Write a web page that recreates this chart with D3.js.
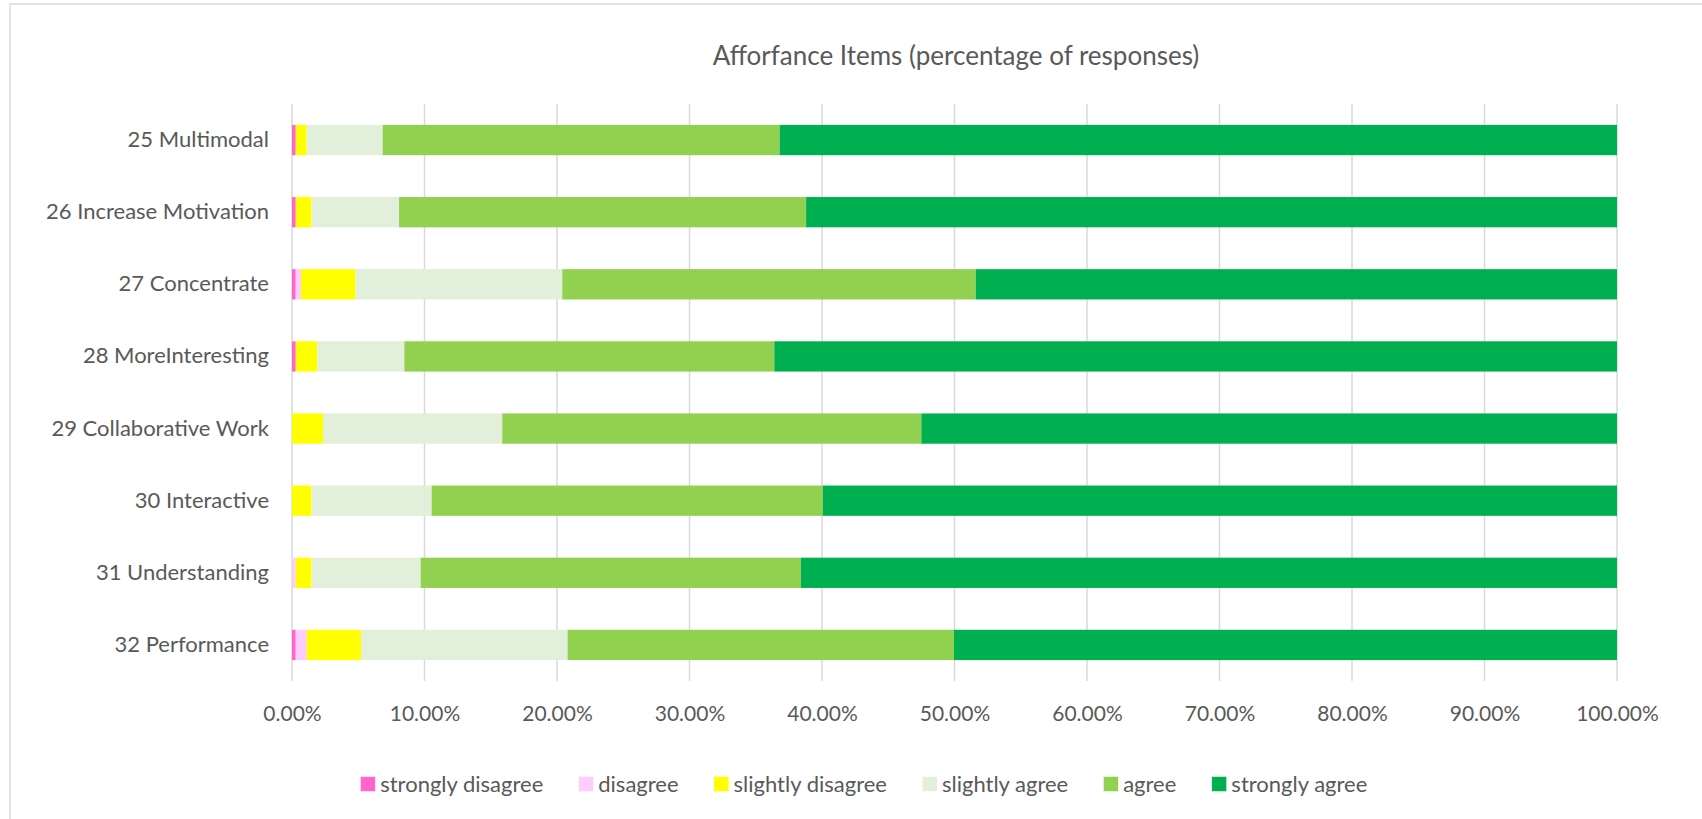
<!DOCTYPE html>
<html>
<head>
<meta charset="utf-8">
<script src="https://cdn.jsdelivr.net/npm/d3@7"></script>
<style>
  html, body { margin: 0; padding: 0; background: #fff; }
  svg { display: block; }
  text { font-family: Lato, "Open Sans", sans-serif; fill: #595959; }
</style>
</head>
<body>
<svg id="chart" width="1702" height="819"></svg>
<script>
// Survey items (top to bottom)
const items = [
  "25 Multimodal",
  "26 Increase Motivation",
  "27 Concentrate",
  "28 MoreInteresting",
  "29 Collaborative Work",
  "30 Interactive",
  "31 Understanding",
  "32 Performance"
];

// Response categories, in stacking order
const responses = [
  "strongly disagree",
  "disagree",
  "slightly disagree",
  "slightly agree",
  "agree",
  "strongly agree"
];

const responseColors = ["#FF66CC", "#FFCCFF", "#FFFF00", "#E2EFDA", "#92D050", "#00B050"];

// Share of responses (%) per item, one array per response category
const stronglyDisagree = [0.28, 0.28, 0.28, 0.28, 0.00, 0.00, 0.00, 0.28];
const disagree         = [0.00, 0.00, 0.40, 0.00, 0.00, 0.00, 0.28, 0.83];
const slightlyDisagree = [0.83, 1.20, 4.12, 1.63, 2.34, 1.48, 1.20, 4.10];
const slightlyAgree    = [5.73, 6.60, 15.60, 6.57, 13.53, 9.06, 8.23, 15.59];
const agree            = [29.96, 30.72, 31.20, 27.92, 31.63, 29.52, 28.69, 29.16];
const stronglyAgree    = [63.20, 61.20, 48.40, 63.60, 52.50, 59.94, 61.60, 50.04];

const tickValues = [0, 10, 20, 30, 40, 50, 60, 70, 80, 90, 100];

const seriesValues = [stronglyDisagree, disagree, slightlyDisagree, slightlyAgree, agree, stronglyAgree];

const rows = items.map((name, i) => {
  const row = { item: name };
  responses.forEach((r, k) => { row[r] = seriesValues[k][i]; });
  return row;
});

const svg = d3.select("#chart");

// chart frame
svg.append("rect")
  .attr("x", 10).attr("y", 4)
  .attr("width", 1800).attr("height", 900)
  .attr("fill", "#fff")
  .attr("stroke", "#D9D9D9")
  .attr("stroke-width", 1.5);

const plot = { left: 292, right: 1617, top: 104, bottom: 681 };

const x = d3.scaleLinear().domain([0, 100]).range([plot.left, plot.right]);
const y = d3.scaleBand().domain(items).range([plot.top, plot.bottom]).paddingInner(0.58).paddingOuter(0.29);

// title
svg.append("text")
  .attr("x", 956).attr("y", 65)
  .attr("text-anchor", "middle")
  .style("font-size", "26px")
  .text("Afforfance Items (percentage of responses)");

// vertical gridlines
svg.append("g")
  .selectAll("line")
  .data(tickValues)
  .join("line")
  .attr("x1", d => x(d)).attr("x2", d => x(d))
  .attr("y1", plot.top).attr("y2", plot.bottom)
  .attr("stroke", "#D9D9D9")
  .attr("stroke-width", 1.5);

// stacked bars
const stack = d3.stack().keys(responses);
const layers = stack(rows);
const color = d3.scaleOrdinal().domain(responses).range(responseColors);

svg.append("g")
  .selectAll("g")
  .data(layers)
  .join("g")
  .attr("fill", d => color(d.key))
  .selectAll("rect")
  .data(d => d)
  .join("rect")
  .attr("x", d => x(d[0]))
  .attr("width", d => Math.max(0, x(d[1]) - x(d[0])))
  .attr("y", d => y(d.data.item))
  .attr("height", y.bandwidth());

// x axis labels
const xAxis = d3.axisBottom(x)
  .tickValues(tickValues)
  .tickFormat(d => d3.format(".2%")(d / 100))
  .tickSize(0)
  .tickPadding(0);

const gx = svg.append("g")
  .attr("transform", `translate(0, ${plot.bottom})`)
  .call(xAxis);
gx.select(".domain").remove();
gx.selectAll("text")
  .attr("dy", null)
  .attr("y", 40)
  .style("font-size", "21px")
  .style("font-family", "Lato, 'Open Sans', sans-serif")
  .attr("fill", "#595959");

// y axis labels
const yAxis = d3.axisLeft(y).tickSize(0).tickPadding(0);
const gy = svg.append("g")
  .attr("transform", `translate(269, 0)`)
  .call(yAxis);
gy.select(".domain").remove();
gy.selectAll("text")
  .attr("x", 0)
  .style("font-size", "22px")
  .style("font-family", "Lato, 'Open Sans', sans-serif")
  .attr("fill", "#595959");

// legend
const legend = svg.append("g");
const legendItems = legend.selectAll("g")
  .data(responses)
  .join("g");
legendItems.append("rect")
  .attr("width", 14.5).attr("height", 14.5)
  .attr("y", -7.25)
  .attr("fill", d => color(d));
legendItems.append("text")
  .attr("x", 19.5)
  .attr("dy", "0.35em")
  .style("font-size", "22px")
  .text(d => d);

let offset = 0;
const gap = 35.5;
legendItems.each(function () {
  const w = 19.5 + this.querySelector("text").getComputedTextLength();
  d3.select(this).attr("transform", `translate(${offset}, 0)`);
  offset += w + gap;
});
const totalW = offset - gap;
legend.attr("transform", `translate(${864 - totalW / 2}, 784)`);
</script>
</body>
</html>
